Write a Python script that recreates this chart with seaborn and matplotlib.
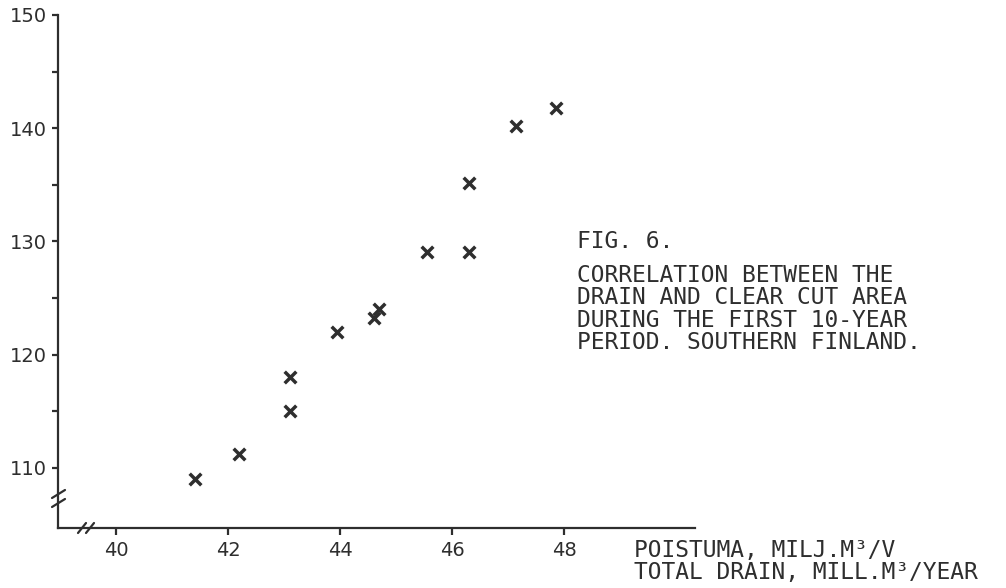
import matplotlib
matplotlib.use("Agg")
import matplotlib.pyplot as plt
from matplotlib.lines import Line2D
import seaborn as sns
import pandas as pd

drain = [41.4, 42.2, 43.1, 43.1, 43.95, 44.6, 44.7, 45.55, 46.3, 46.3, 47.15, 47.85]
clear_cut = [109.0, 111.2, 118.0, 115.0, 122.0, 123.2, 124.0, 129.1, 135.2, 129.1, 140.2, 141.8]
x_ticks = [40, 42, 44, 46, 48]
y_ticks = [110, 120, 130, 140, 150]
y_minor = [115, 125, 135, 145]
fig_title = "FIG. 6."
caption = ["CORRELATION BETWEEN THE", "DRAIN AND CLEAR CUT AREA",
           "DURING THE FIRST 10-YEAR", "PERIOD. SOUTHERN FINLAND."]
xlabel_lines = ["POISTUMA, MILJ.M³/V", "TOTAL DRAIN, MILL.M³/YEAR"]

df = pd.DataFrame({"drain": drain, "clear_cut": clear_cut})

sns.set_theme(style="ticks")
plt.rcParams["font.family"] = ["DejaVu Sans"]
ink = "#2e2e2e"

fig = plt.figure(figsize=(10.06, 5.88), dpi=100)
ax = fig.add_axes([58/1006, 1-528/588, (695-58)/1006, (528-15)/588])

sns.scatterplot(data=df, x="drain", y="clear_cut", marker="x", s=70,
                linewidth=2.5, color=ink, ax=ax, zorder=3)

ax.set_xlim(38.96, 50.34)
ax.set_ylim(104.7, 150)
ax.set_xticks(x_ticks)
ax.set_yticks(y_ticks)
ax.set_yticks(y_minor, minor=True)
ax.set_xlabel("")
ax.set_ylabel("")
for s in ["top", "right"]:
    ax.spines[s].set_visible(False)
for s in ["left", "bottom"]:
    ax.spines[s].set_linewidth(1.6)
    ax.spines[s].set_color(ink)
ax.tick_params(axis="y", which="major", length=4.5, width=1.6, color=ink,
               labelsize=14, labelcolor=ink, pad=3.5)
ax.tick_params(axis="x", which="major", length=5, width=1.6, color=ink,
               labelsize=14, labelcolor=ink, pad=4)
ax.tick_params(axis="y", which="minor", length=4.5, width=1.6, color=ink)

tr = ax.transAxes
W = (695-58)
H = (528-15)
# y-axis break
for off in (0, 9):
    yb = (528 - (494 + off)) / H
    ax.add_line(Line2D([-6/W, 7/W], [yb - 4/H, yb + 4/H], transform=tr,
                       color=ink, lw=1.6, clip_on=False))
# x-axis break
for off in (0, 8):
    xb = (82 + off - 58) / W
    ax.add_line(Line2D([xb - 4/W, xb + 4/W], [-5/H, 5/H], transform=tr,
                       color=ink, lw=1.6, clip_on=False))

mono = "DejaVu Sans Mono"
fs = 16.5
fig.text(577/1006, 1-241/588, fig_title, family=mono, fontsize=fs,
         color=ink, va="center", ha="left")
for i, line in enumerate(caption):
    fig.text(577/1006, 1-(275 + 22.5*i)/588, line, family=mono, fontsize=fs,
             color=ink, va="center", ha="left")
for i, line in enumerate(xlabel_lines):
    fig.text(634/1006, 1-(550 + 23*i)/588, line, family=mono, fontsize=fs,
             color=ink, va="center", ha="left")

fig.savefig("out.png", dpi=100)
